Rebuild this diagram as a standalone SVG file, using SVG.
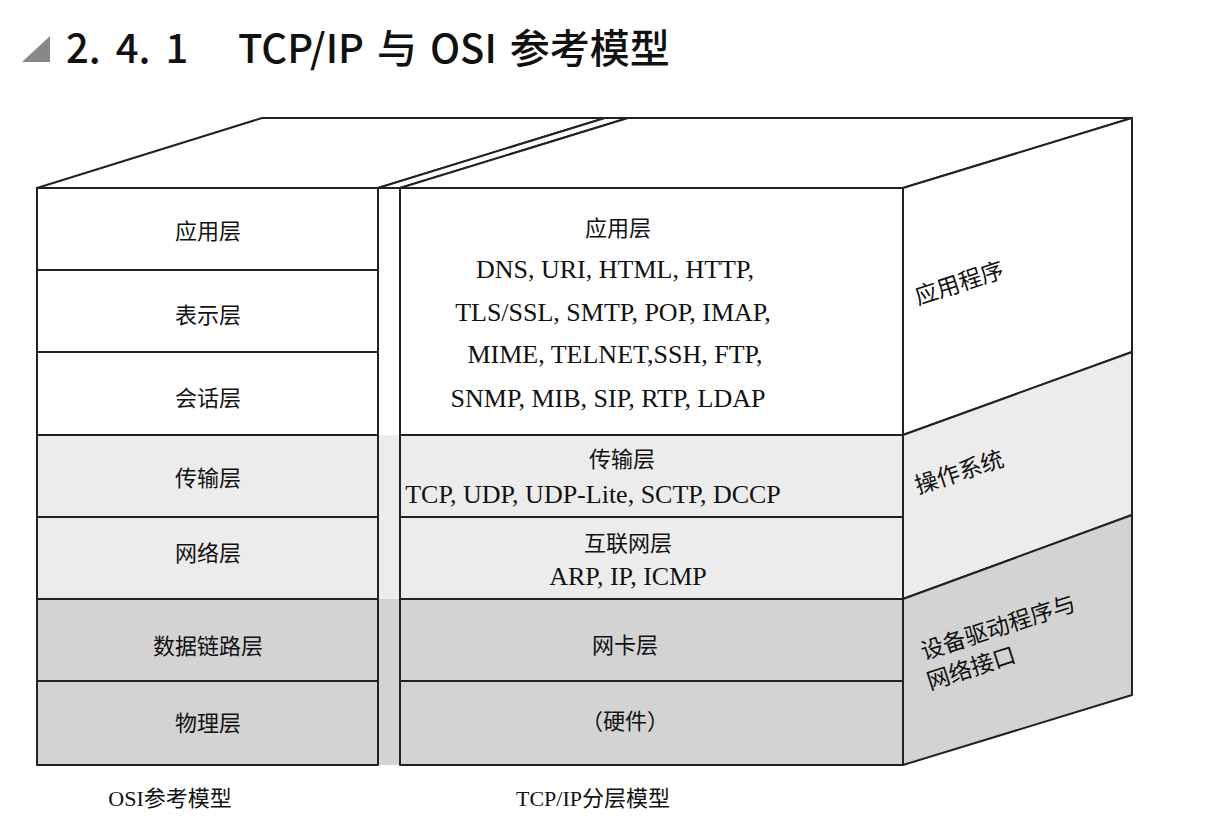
<svg xmlns="http://www.w3.org/2000/svg" width="1210" height="838" viewBox="0 0 1210 838">
<style>
.o{stroke:#222;stroke-width:2;stroke-linejoin:round}
.w{fill:#fff}.l{fill:#ececec}.g{fill:#d3d3d3}
.t{font-family:"Liberation Serif","Noto Sans CJK SC",serif;font-size:22px;fill:#111;text-anchor:middle}
.e{font-family:"Liberation Serif","Noto Sans CJK SC",serif;font-size:26px;fill:#111;text-anchor:middle}
.s{font-family:"Liberation Serif","Noto Sans CJK SC",serif;font-size:23px;fill:#111}
.h{font-family:"Noto Sans CJK SC","Liberation Sans",sans-serif;font-size:40px;font-weight:500;fill:#111}
</style>
<rect width="1210" height="838" fill="#fff"/>
<g id="title">
<polygon points="22,62 50,36 50,62" fill="#888"/>
<text class="h" x="66" y="63" word-spacing="6">2. 4. 1</text>
<text class="h" x="238" y="63" word-spacing="4">TCP/IP 与 OSI 参考模型</text>
</g>
<g id="osi">
<polygon class="o w" points="37,188 262,118 605,118 378,188"/>
<polygon class="o w" points="378,188 605,118 628,118 400,188"/>
<rect class="l" x="378" y="435" width="22" height="164"/>
<rect class="g" x="378" y="599" width="22" height="166"/>
<rect class="o w" x="37" y="188" width="341" height="82"/>
<rect class="o w" x="37" y="270" width="341" height="82"/>
<rect class="o w" x="37" y="352" width="341" height="83"/>
<rect class="o l" x="37" y="435" width="341" height="82"/>
<rect class="o l" x="37" y="517" width="341" height="82"/>
<rect class="o g" x="37" y="599" width="341" height="82"/>
<rect class="o g" x="37" y="681" width="341" height="84"/>
<text class="t" x="208" y="239">应用层</text>
<text class="t" x="208" y="323">表示层</text>
<text class="t" x="208" y="406">会话层</text>
<text class="t" x="208" y="486">传输层</text>
<text class="t" x="208" y="561">网络层</text>
<text class="t" x="208" y="654">数据链路层</text>
<text class="t" x="208" y="731">物理层</text>
<text class="t" x="170" y="806">OSI参考模型</text>
</g>
<g id="tcpip">
<polygon class="o w" points="400,188 628,118 1132,118 903,188"/>
<polygon class="o w" points="903,188 1132,118 1132,352 903,435"/>
<polygon class="o l" points="903,435 1132,352 1132,515 903,599"/>
<polygon class="o g" points="903,599 1132,515 1132,695 903,765"/>
<rect class="o w" x="400" y="188" width="503" height="247"/>
<rect class="o l" x="400" y="435" width="503" height="82"/>
<rect class="o l" x="400" y="517" width="503" height="82"/>
<rect class="o g" x="400" y="599" width="503" height="82"/>
<rect class="o g" x="400" y="681" width="503" height="84"/>
<text class="t" x="618" y="236">应用层</text>
<text class="e" x="615" y="278">DNS, URI, HTML, HTTP,</text>
<text class="e" x="613" y="321">TLS/SSL, SMTP, POP, IMAP,</text>
<text class="e" x="615" y="363">MIME, TELNET,SSH, FTP,</text>
<text class="e" x="608" y="407">SNMP, MIB, SIP, RTP, LDAP</text>
<text class="t" x="622" y="467">传输层</text>
<text class="e" x="593" y="503">TCP, UDP, UDP-Lite, SCTP, DCCP</text>
<text class="t" x="628" y="551">互联网层</text>
<text class="e" x="628" y="585">ARP, IP, ICMP</text>
<text class="t" x="625" y="653">网卡层</text>
<text class="t" x="625" y="729">（硬件）</text>
<text class="t" x="593" y="806">TCP/IP分层模型</text>
<text class="s" transform="translate(918,305) rotate(-18)">应用程序</text>
<text class="s" transform="translate(918,494) rotate(-18)">操作系统</text>
<text class="s" transform="translate(924,660) rotate(-18)">设备驱动程序与</text>
<text class="s" transform="translate(930,690) rotate(-18)">网络接口</text>
</g>
</svg>
